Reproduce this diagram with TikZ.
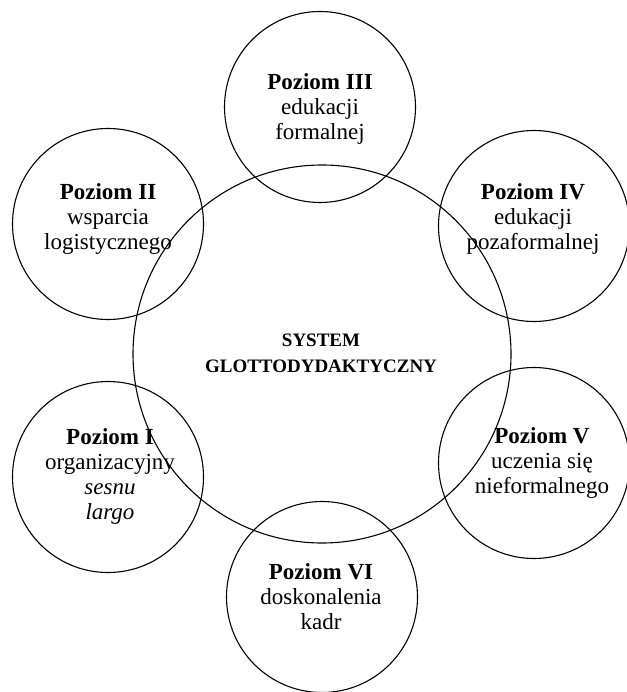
\documentclass[tikz,border=0pt]{standalone}
\usepackage{fontspec}
\setmainfont{Liberation Serif}
\begin{document}
\begin{tikzpicture}[x=1pt,y=-1pt,
  ring/.style={draw, circle, line width=1.1pt, inner sep=0pt, minimum size=#1},
  ring/.default=191pt,
  lvltext/.style={align=center, inner sep=0pt, font=\fontsize{23}{25}\selectfont},
  coretext/.style={align=center, inner sep=0pt, font=\fontsize{19}{26}\selectfont\bfseries}]
\useasboundingbox (0,0) rectangle (626,692);
% circles
\node[ring=378pt] (c0) at (322,354) {};
\node[ring] (c3) at (320,107) {};
\node[ring] (c2) at (108,224) {};
\node[ring] (c4) at (534,226) {};
\node[ring] (c1) at (108,477) {};
\node[ring] (c5) at (534,463) {};
\node[ring] (c6) at (322,597) {};
% texts
\node[coretext] (t0) at (321,353) {SYSTEM\\GLOTTODYDAKTYCZNY};
\node[lvltext] (t3) at (320,109) {\textbf{Poziom III}\\edukacji\\formalnej};
\node[lvltext] (t2) at (108,219) {\textbf{Poziom II}\\wsparcia\\logistycznego};
\node[lvltext] (t4) at (533,219) {\textbf{Poziom IV}\\edukacji\\pozaformalnej};
\node[lvltext] (t1) at (110,476) {\textbf{Poziom I}\\organizacyjny\\\textit{sesnu}\\\textit{largo}};
\node[lvltext] (t5) at (542,463) {\textbf{Poziom V}\\uczenia się\\nieformalnego};
\node[lvltext] (t6) at (321,597) {\textbf{Poziom VI}\\doskonalenia\\kadr};
\end{tikzpicture}
\end{document}
